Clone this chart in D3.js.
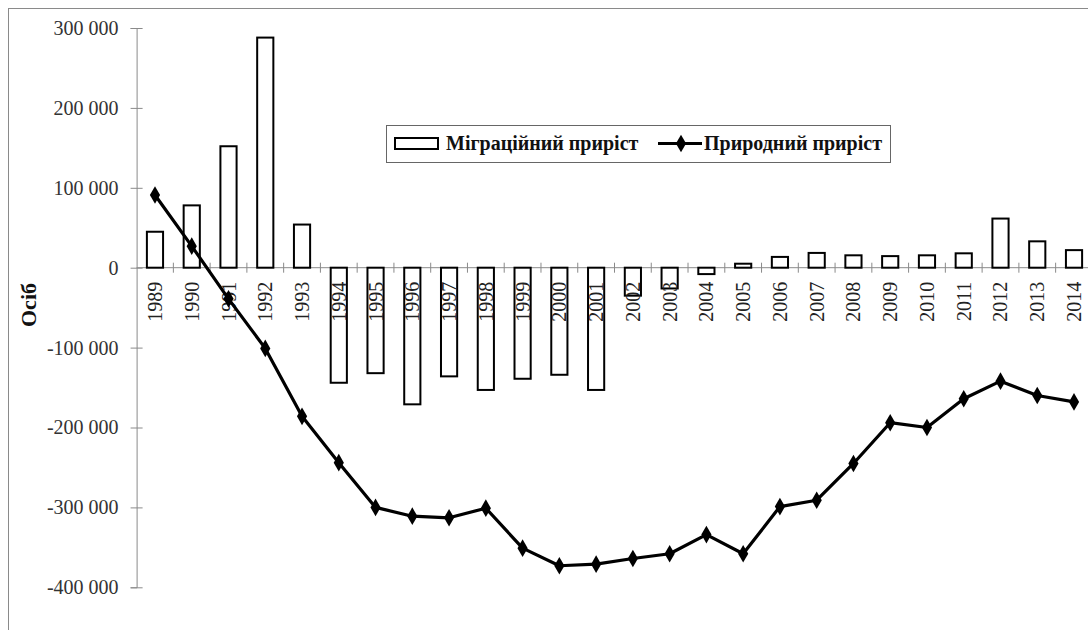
<!DOCTYPE html>
<html>
<head>
<meta charset="utf-8">
<script src="https://cdn.jsdelivr.net/npm/d3@7"></script>
<style>
  body { margin: 0; background: #fff; }
  svg text { font-family: "Liberation Serif", "Times New Roman", serif; }
</style>
</head>
<body>
<div class="canvas"></div>
<script>
// data
const years = ['1989', '1990', '1991', '1992', '1993', '1994', '1995', '1996', '1997', '1998',
    '1999', '2000', '2001', '2002', '2003', '2004', '2005', '2006', '2007', '2008',
    '2009', '2010', '2011', '2012', '2013', '2014'];
const migration = [45000, 78000, 152000, 288000, 54000, -144000, -132000, -171000, -136000, -153000,
    -139000, -134000, -153000, -35000, -26000, -8000, 5000, 13500, 18500, 15500,
    14500, 15500, 18000, 61500, 33000, 22000];
const natural = [91000, 27000, -39000, -101000, -186000, -244000, -300000, -311000, -313000, -301000,
    -351000, -373000, -371000, -364000, -358000, -334000, -358000, -299000, -291000, -245000,
    -194000, -200000, -164000, -142000, -160000, -168000];
const yTicks = [300000, 200000, 100000, 0, -100000, -200000, -300000, -400000];
const seriesNames = ['Міграційний приріст', 'Природний приріст'];
const yTitle = 'Осіб';

const width = 1088, height = 630;

const svg = d3.select('.canvas')
    .append('svg')
    .attr('width', width)
    .attr('height', height);

// chart area border
svg.append('rect')
    .attr('x', 8.5).attr('y', 8.5)
    .attr('width', width + 20).attr('height', height + 20)
    .attr('fill', 'none')
    .attr('stroke', '#8a8a8a');

// scales
const x = d3.scaleBand()
    .domain(years)
    .range([136.6, 1092.4])
    .paddingInner(0)
    .paddingOuter(0);

const y = d3.scaleLinear()
    .domain([-400000, 300000])
    .range([587.3, 28]);

const fmt = d => d3.format(',')(d).replace(/,/g, ' ').replace('−', '-');

// y axis
const yAxis = svg.append('g')
    .attr('transform', `translate(${x.range()[0]}, 0)`)
    .call(d3.axisLeft(y).tickValues(yTicks).tickSize(6).tickFormat(fmt));
yAxis.attr('font-family', null).attr('font-size', null);
yAxis.select('.domain').attr('stroke', '#8a8a8a');
yAxis.selectAll('.tick line')
    .attr('stroke', '#8a8a8a')
    .attr('x1', 6).attr('x2', -6);
yAxis.selectAll('.tick text')
    .attr('x', -18)
    .attr('font-size', 20)
    .attr('fill', '#333');

// y title
svg.append('text')
    .attr('transform', `translate(36, 305) rotate(-90)`)
    .attr('text-anchor', 'middle')
    .attr('font-size', 22)
    .attr('font-weight', 'bold')
    .attr('fill', '#111')
    .text(yTitle);

// zero axis with cross ticks between categories
const zeroY = y(0);
const xAxis = svg.append('g')
    .attr('transform', `translate(0, ${zeroY})`);
xAxis.append('line')
    .attr('x1', x.range()[0]).attr('x2', x.range()[1])
    .attr('stroke', '#8a8a8a');
xAxis.selectAll('.xtick')
    .data(years.slice(1))
    .enter()
    .append('line')
    .attr('x1', d => x(d)).attr('x2', d => x(d))
    .attr('y1', -5).attr('y2', 5)
    .attr('stroke', '#8a8a8a');

// migration bars
const barW = x.bandwidth() * 0.44;
svg.selectAll('.bar')
    .data(years)
    .enter()
    .append('rect')
    .attr('class', 'bar')
    .attr('x', d => x(d) + (x.bandwidth() - barW) / 2)
    .attr('y', (d, i) => Math.min(y(migration[i]), zeroY))
    .attr('width', barW)
    .attr('height', (d, i) => Math.abs(y(migration[i]) - zeroY))
    .attr('fill', '#fff')
    .attr('stroke', '#000')
    .attr('stroke-width', 2);

// year labels (over the bars)
svg.selectAll('.year')
    .data(years)
    .enter()
    .append('text')
    .attr('class', 'year')
    .attr('transform', d => `translate(${x(d) + x.bandwidth() / 2}, ${zeroY + 14}) rotate(-90)`)
    .attr('text-anchor', 'end')
    .attr('dy', '0.35em')
    .attr('font-size', 20)
    .attr('fill', '#222')
    .text(d => d);

// natural increase line
const line = d3.line()
    .x((d, i) => x(years[i]) + x.bandwidth() / 2)
    .y(d => y(d));

svg.append('path')
    .datum(natural)
    .attr('d', line)
    .attr('fill', 'none')
    .attr('stroke', '#000')
    .attr('stroke-width', 3.2)
    .attr('stroke-linejoin', 'round');

const diamond = d3.symbol().type(d3.symbolDiamond).size(90);
svg.selectAll('.pt')
    .data(natural)
    .enter()
    .append('path')
    .attr('class', 'pt')
    .attr('d', diamond)
    .attr('transform', (d, i) => `translate(${x(years[i]) + x.bandwidth() / 2}, ${y(d)})`)
    .attr('fill', '#000');

// legend
const legend = svg.append('g');
legend.append('rect')
    .attr('x', 386.5).attr('y', 125.5)
    .attr('width', 504).attr('height', 37)
    .attr('fill', '#fff')
    .attr('stroke', '#666');

legend.append('rect')
    .attr('x', 395).attr('y', 138)
    .attr('width', 43).attr('height', 11)
    .attr('fill', '#fff')
    .attr('stroke', '#000')
    .attr('stroke-width', 2);
legend.append('text')
    .attr('x', 446).attr('y', 150)
    .attr('font-size', 20)
    .attr('font-weight', 'bold')
    .attr('fill', '#111')
    .text(seriesNames[0]);

legend.append('line')
    .attr('x1', 658).attr('x2', 702)
    .attr('y1', 143.5).attr('y2', 143.5)
    .attr('stroke', '#000')
    .attr('stroke-width', 3);
legend.append('path')
    .attr('d', diamond)
    .attr('transform', 'translate(681, 143.5)')
    .attr('fill', '#000');
legend.append('text')
    .attr('x', 704).attr('y', 150)
    .attr('font-size', 20)
    .attr('font-weight', 'bold')
    .attr('fill', '#111')
    .text(seriesNames[1]);
</script>
</body>
</html>
